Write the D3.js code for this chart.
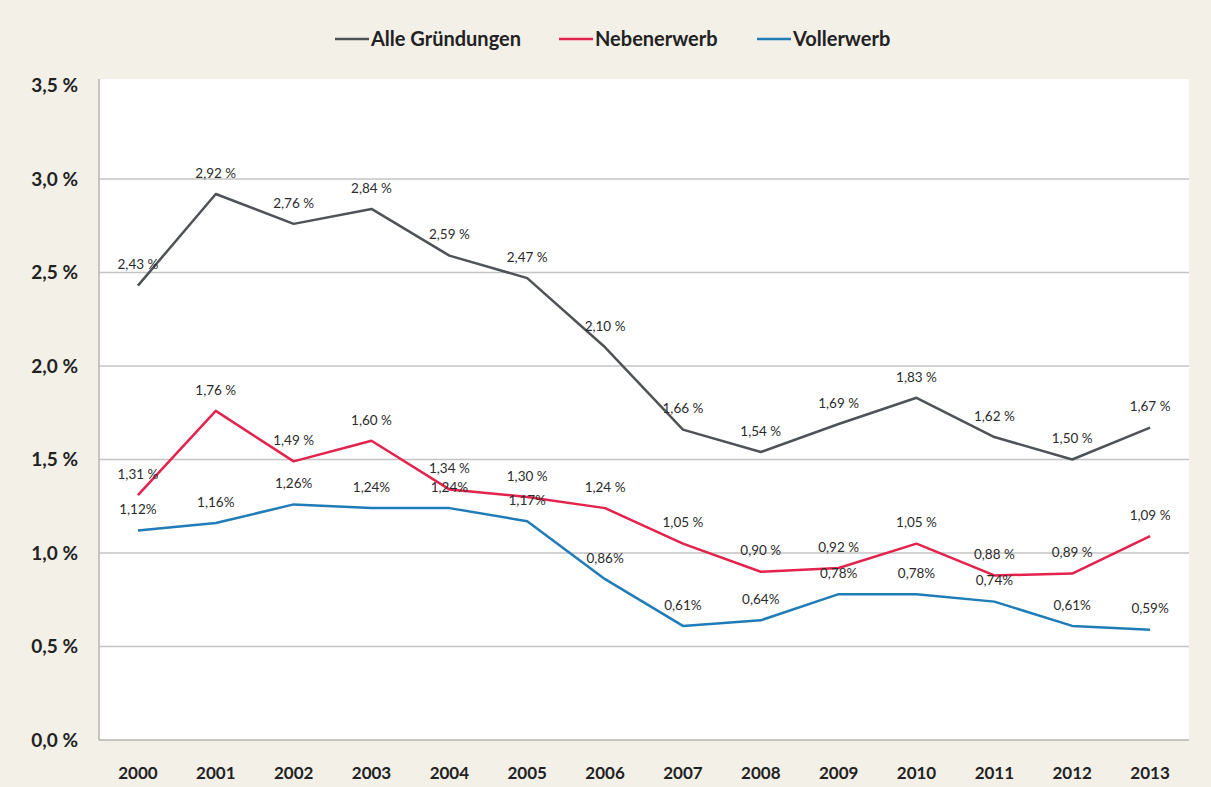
<!DOCTYPE html>
<meta charset="utf-8">
<head>
    <script src="https://d3js.org/d3.v7.min.js"></script>
    <style>
    body { margin: 0; background: #f3f0e8; }
    .grid line { stroke: #c4c4c4; stroke-width: 1.5px; }
    .tick-label { font: bold 17px Lato, sans-serif; fill: #222; }
    .y-label { font: bold 19px Lato, sans-serif; fill: #222; }
    .data-label { font: 13.5px Lato, sans-serif; fill: #2b2b2b; }
    .legend { font: bold 20px Lato, sans-serif; fill: #222; }
    .line { fill: none; stroke-width: 2.5px; stroke-linejoin: round; }
    </style>
</head>
<body>
<script>

// chart values
var years = ["2000","2001","2002","2003","2004","2005","2006","2007","2008","2009","2010","2011","2012","2013"];
var alle  = [2.43, 2.92, 2.76, 2.84, 2.59, 2.47, 2.10, 1.66, 1.54, 1.69, 1.83, 1.62, 1.50, 1.67];
var neben = [1.31, 1.76, 1.49, 1.60, 1.34, 1.30, 1.24, 1.05, 0.90, 0.92, 1.05, 0.88, 0.89, 1.09];
var voll  = [1.12, 1.16, 1.26, 1.24, 1.24, 1.17, 0.86, 0.61, 0.64, 0.78, 0.78, 0.74, 0.61, 0.59];
var yTicks = [0, 0.5, 1.0, 1.5, 2.0, 2.5, 3.0, 3.5];

var series = [
    {name: "Alle Gründungen", values: alle,  color: "#4f5358", space: " "},
    {name: "Nebenerwerb",     values: neben, color: "#e3234c", space: " "},
    {name: "Vollerwerb",      values: voll,  color: "#1f7cb8", space: ""}
];

var W = 1211, H = 787;
var plotLeft = 99, plotRight = 1189, plotTop = 79, plotBottom = 740;

var x = d3.scalePoint().domain(years).range([plotLeft, plotRight]).padding(0.5);
var y = d3.scaleLinear().domain([0, 3.5]).range([plotBottom, 85.5]);

var fmt = function(v) { return d3.format(".2f")(v).replace(".", ","); };

var svg = d3.select("body").append("svg")
    .attr("width", W)
    .attr("height", H);

// plot area
svg.append("rect")
    .attr("x", plotLeft).attr("y", plotTop)
    .attr("width", plotRight - plotLeft).attr("height", plotBottom - plotTop)
    .attr("fill", "#ffffff");

// gridlines
svg.append("g").attr("class", "grid")
  .selectAll("line")
  .data(yTicks.slice(1, -1))
  .enter().append("line")
    .attr("x1", plotLeft).attr("x2", plotRight)
    .attr("y1", function(d) { return y(d); })
    .attr("y2", function(d) { return y(d); });

// axes lines
svg.append("line")
    .attr("x1", plotLeft).attr("x2", plotLeft).attr("y1", plotTop).attr("y2", plotBottom)
    .attr("stroke", "#b5b5b5").attr("stroke-width", 1.5);
svg.append("line")
    .attr("x1", plotLeft).attr("x2", plotRight).attr("y1", plotBottom).attr("y2", plotBottom)
    .attr("stroke", "#b5b5b5").attr("stroke-width", 1.5);

// y tick labels
svg.append("g").selectAll("text")
  .data(yTicks)
  .enter().append("text")
    .attr("class", "y-label")
    .attr("x", 78)
    .attr("y", function(d) { return y(d); })
    .attr("dy", "0.35em")
    .attr("text-anchor", "end")
    .text(function(d) { return d3.format(".1f")(d).replace(".", ",") + " %"; });

// x tick labels
svg.append("g").selectAll("text")
  .data(years)
  .enter().append("text")
    .attr("class", "tick-label")
    .attr("x", function(d) { return x(d); })
    .attr("y", 773)
    .attr("dy", "0.35em")
    .attr("text-anchor", "middle")
    .text(function(d) { return d; });

var line = d3.line()
    .x(function(d, i) { return x(years[i]); })
    .y(function(d) { return y(d); });

series.forEach(function(s) {
  svg.append("path")
      .datum(s.values)
      .attr("class", "line")
      .attr("stroke", s.color)
      .attr("d", line);
});

// data labels
series.forEach(function(s) {
  svg.append("g").selectAll("text")
    .data(s.values)
    .enter().append("text")
      .attr("class", "data-label")
      .attr("x", function(d, i) { return x(years[i]); })
      .attr("y", function(d) { return y(d) - 21; })
      .attr("dy", "0.35em")
      .attr("text-anchor", "middle")
      .text(function(d) { return fmt(d) + s.space + "%"; });
});

// legend
var legendX = [335, 559, 757];
var legend = svg.append("g").selectAll("g")
  .data(series)
  .enter().append("g")
    .attr("transform", function(d, i) { return "translate(" + legendX[i] + ",39)"; });
legend.append("line")
    .attr("x1", 0).attr("x2", 34)
    .attr("stroke", function(d) { return d.color; })
    .attr("stroke-width", 2.5);
legend.append("text")
    .attr("class", "legend")
    .attr("x", 36)
    .attr("dy", "0.35em")
    .text(function(d) { return d.name; });

</script>
</body>
